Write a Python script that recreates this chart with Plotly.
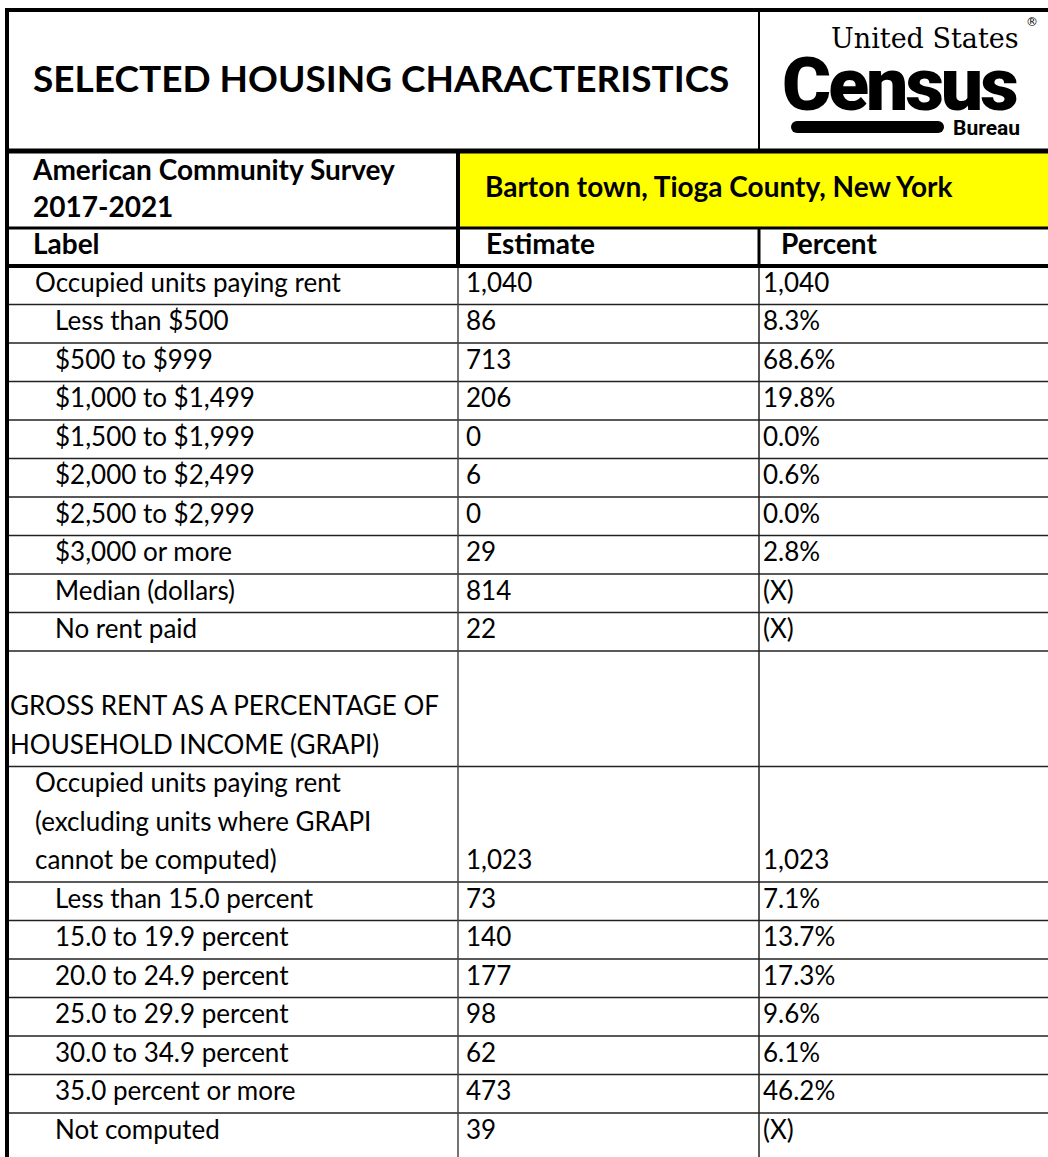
import plotly.graph_objects as go

# ---- data -----------------------------------------------------------------
TITLE = "SELECTED HOUSING CHARACTERISTICS"
SURVEY = ["American Community Survey", "2017-2021"]
GEOGRAPHY = "Barton town, Tioga County, New York"
COL_HEADERS = ["Label", "Estimate", "Percent"]

LABELS = [
    "Occupied units paying rent",
    "Less than $500",
    "$500 to $999",
    "$1,000 to $1,499",
    "$1,500 to $1,999",
    "$2,000 to $2,499",
    "$2,500 to $2,999",
    "$3,000 or more",
    "Median (dollars)",
    "No rent paid",
    "\nGROSS RENT AS A PERCENTAGE OF\nHOUSEHOLD INCOME (GRAPI)",
    "Occupied units paying rent\n(excluding units where GRAPI\ncannot be computed)",
    "Less than 15.0 percent",
    "15.0 to 19.9 percent",
    "20.0 to 24.9 percent",
    "25.0 to 29.9 percent",
    "30.0 to 34.9 percent",
    "35.0 percent or more",
    "Not computed",
]
INDENT = [1, 2, 2, 2, 2, 2, 2, 2, 2, 2, 0, 1, 2, 2, 2, 2, 2, 2, 2]
ESTIMATE = ["1,040", "86", "713", "206", "0", "6", "0", "29", "814", "22", "",
            "1,023", "73", "140", "177", "98", "62", "473", "39"]
PERCENT = ["1,040", "8.3%", "68.6%", "19.8%", "0.0%", "0.6%", "0.0%", "2.8%",
           "(X)", "(X)", "", "1,023", "7.1%", "13.7%", "17.3%", "9.6%", "6.1%",
           "46.2%", "(X)"]

# ---- page geometry (pixels, y grows downwards) ------------------------------
W, H = 1048, 1157
X_LEFT, X_EST, X_PCT, X_RIGHT = 7, 458, 759, W
Y_TOP, Y_TITLE, Y_GEO, Y_HEAD = 10, 151, 228, 266
LINE_H = 38.5
INDENT_PX = {0: 10, 1: 35, 2: 55}
FONT = "Lato, 'Open Sans', sans-serif"
FS = 26
FS_BOLD = 28
LOGO_SANS = "Roboto, 'Open Sans', sans-serif"

# walk the rows: one text slot per line, estimates sit on the last line
lab_x, lab_y, lab_t = [], [], []
val_y, est_t, pct_t = [], [], []
row_edges = [Y_HEAD]
y = Y_HEAD
for label, ind, est, pct in zip(LABELS, INDENT, ESTIMATE, PERCENT):
    lines = label.split("\n")
    for k, line in enumerate(lines):
        lab_x.append(INDENT_PX[ind])
        lab_y.append(y + LINE_H * (k + 0.5))
        lab_t.append(line)
    val_y.append(y + LINE_H * (len(lines) - 0.5))
    est_t.append(est)
    pct_t.append(pct)
    y += LINE_H * len(lines)
    row_edges.append(y)

fig = go.Figure()

txt = dict(mode="text", textposition="middle right", hoverinfo="skip",
           showlegend=False, cliponaxis=False)
reg = dict(family=FONT, size=FS, color="black")
fig.add_trace(go.Scatter(x=lab_x, y=lab_y, text=lab_t, textfont=reg, **txt))
fig.add_trace(go.Scatter(x=[X_EST + 8] * len(est_t), y=val_y, text=est_t,
                         textfont=reg, **txt))
fig.add_trace(go.Scatter(x=[X_PCT + 4] * len(pct_t), y=val_y, text=pct_t,
                         textfont=reg, **txt))

# headers
bold = dict(family=FONT, size=FS_BOLD, color="black", weight="bold")
fig.add_trace(go.Scatter(x=[33], y=[(Y_TOP + Y_TITLE) / 2 + 2], text=[TITLE],
                         textfont=dict(family=FONT, size=37, color="black", weight="bold"), **txt))
fig.add_trace(go.Scatter(x=[33, 33], y=[173, 210], text=SURVEY, textfont=bold, **txt))
fig.add_trace(go.Scatter(x=[485], y=[(Y_TITLE + Y_GEO) / 2], text=[GEOGRAPHY],
                         textfont=bold, **txt))
fig.add_trace(go.Scatter(x=[33, X_EST + 28, X_PCT + 22], y=[(Y_GEO + Y_HEAD) / 2] * 3,
                         text=COL_HEADERS, textfont=bold, **txt))

# ---- cells -----------------------------------------------------------------
shapes = []
def hline(y0, x0=X_LEFT, x1=X_RIGHT, w=1.5, c="#222"):
    shapes.append(dict(type="line", x0=x0, x1=x1, y0=y0, y1=y0,
                       line=dict(color=c, width=w)))
def vline(x0, y0, y1, w=1.5, c="#222"):
    shapes.append(dict(type="line", x0=x0, x1=x0, y0=y0, y1=y1,
                       line=dict(color=c, width=w)))

shapes.append(dict(type="rect", x0=X_EST, x1=X_RIGHT, y0=Y_TITLE, y1=Y_GEO,
                   fillcolor="#FFFF00", line=dict(width=0), layer="below"))
for e in row_edges[1:-1]:
    hline(e)
vline(X_EST, Y_HEAD, H, w=1.5, c="#444")
vline(X_PCT, Y_HEAD, H, w=1.5, c="#222")
vline(X_PCT, Y_GEO, Y_HEAD, w=3, c="black")
vline(X_EST, Y_TITLE, Y_HEAD, w=4, c="black")
vline(X_PCT, Y_TOP, Y_TITLE, w=2, c="black")
hline(Y_GEO, w=3, c="black")
hline(Y_HEAD, w=4, c="black")
hline(Y_TITLE, w=5, c="black")
hline(Y_TOP, x0=X_LEFT - 2, w=4, c="black")
vline(X_LEFT, Y_TOP, H, w=4, c="black")

# ---- census logo -----------------------------------------------------------
shapes.append(dict(type="rect", x0=797, x1=938, y0=121, y1=133,
                   fillcolor="black", line=dict(width=0)))
for cx in (797, 938):
    shapes.append(dict(type="circle", x0=cx - 6, x1=cx + 6, y0=121, y1=133,
                       fillcolor="black", line=dict(width=0)))

ann = [
    dict(x=1021, y=38, text="United States", xanchor="right", yanchor="middle",
         font=dict(family="DejaVu Serif", size=27, color="black")),
    dict(x=1024, y=22, text="®", xanchor="left", yanchor="middle",
         font=dict(family="DejaVu Sans", size=12, color="black")),
    dict(x=1019, y=84, text="<span style='letter-spacing:-3px'>Census</span>",
         xanchor="right", yanchor="middle",
         font=dict(family=LOGO_SANS, size=75, color="black", weight=900)),
    dict(x=1022, y=128, text="Bureau", xanchor="right", yanchor="middle",
         font=dict(family=LOGO_SANS, size=21, color="black", weight="bold")),
]
for a in ann:
    a.update(xref="x", yref="y", showarrow=False)

fig.update_layout(
    width=W, height=H, margin=dict(l=0, r=0, t=0, b=0),
    paper_bgcolor="white", plot_bgcolor="white",
    xaxis=dict(range=[0, W], visible=False, fixedrange=True),
    yaxis=dict(range=[H, 0], visible=False, fixedrange=True),
    shapes=shapes, annotations=ann,
)

fig.write_html("out.html", config={"displayModeBar": False},
               post_script="document.body.style.margin='0';")
